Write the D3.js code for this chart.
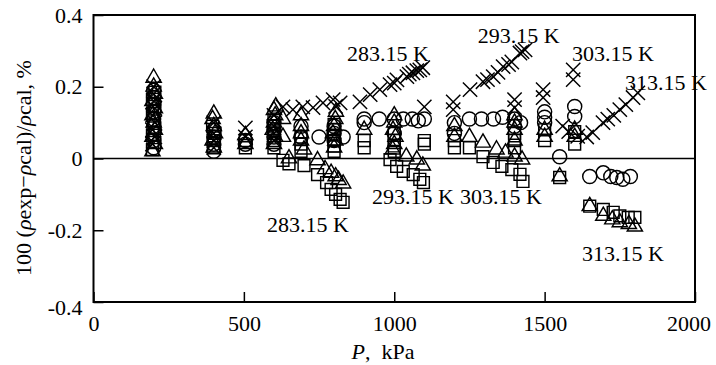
<!DOCTYPE html>
<html>
<head>
<meta charset="utf-8">
<script src="https://cdn.jsdelivr.net/npm/d3@7"></script>
<style>
  body { margin: 0; background: #fff; }
  text { font-family: "Liberation Serif", "Times New Roman", serif; fill: #000; }
</style>
</head>
<body>
<div id="chart"></div>
<script>
// data points: [pressure kPa, deviation %]
const triangles = [
  [196,0.02],[204,0.04],[196,0.06],[204,0.08],[200,0.1],[196,0.12],[204,0.14],[196,0.16],[204,0.18],[200,0.2],[200,0.225],
  [400,0.03],[396,0.05],[404,0.07],[400,0.09],[396,0.11],[400,0.125],
  [505,0.04],[505,0.065],
  [600,0.04],[604,0.06],[596,0.08],[600,0.1],[604,0.12],[600,0.135],[606,0.145],
  [630,0.06],[630,0.11],
  [690,0.05],[690,0.07],[690,0.09],[690,0.12],
  [800,0.03],[804,0.05],[796,0.07],[800,0.09],[804,0.11],[806,0.13],
  [900,0.08],
  [1000,0.04],[1004,0.06],[996,0.08],[1000,0.1],[1000,0.12],
  [1200,0.06],[1200,0.09],
  [1400,0.05],[1400,0.08],[1400,0.1],[1400,0.12],
  [1500,0.06],[1500,0.08],
  [1600,0.06],[1600,0.08],
  [650,0.0],[700,0.025],[745,-0.005],[770,-0.03],[790,-0.04],[805,-0.05],[815,-0.06],[830,-0.07],
  [995,0.025],[1040,0.005],[1075,-0.003],[1095,-0.02],
  [1250,0.06],[1295,0.044],[1340,0.025],[1370,0.016],[1400,0.005],[1425,-0.003],
  [1550,-0.05],
  [1650,-0.133],[1695,-0.16],[1725,-0.17],[1750,-0.178],[1780,-0.183],[1800,-0.19]
];
const squares = [
  [196,0.025],[204,0.045],[196,0.065],[204,0.085],[200,0.105],[196,0.125],[204,0.145],[196,0.165],[204,0.185],
  [400,0.03],[400,0.05],[404,0.07],[396,0.09],
  [505,0.03],[505,0.05],
  [600,0.03],[600,0.05],[600,0.07],[600,0.09],[600,0.11],
  [690,0.02],[690,0.04],[690,0.06],
  [800,0.02],[800,0.035],[800,0.05],[800,0.065],[800,0.08],[800,0.095],
  [900,0.03],[900,0.05],
  [1000,0.02],[1000,0.035],[1000,0.05],[1000,0.07],
  [1100,0.04],[1100,0.05],
  [1200,0.03],[1200,0.05],
  [1250,0.03],
  [1400,0.03],[1400,0.05],[1400,0.07],
  [1500,0.05],[1500,0.08],
  [1600,0.04],[1600,0.075],
  [630,-0.005],[650,-0.015],[700,-0.02],[745,-0.045],[775,-0.067],[790,-0.086],[805,-0.1],[820,-0.114],[830,-0.122],
  [986,-0.003],[1008,-0.022],[1030,-0.036],[1063,-0.045],[1085,-0.058],[1097,-0.067],
  [1295,0.005],[1329,-0.011],[1358,-0.022],[1391,-0.031],[1418,-0.044],[1428,-0.064],
  [1550,-0.053],
  [1650,-0.133],[1695,-0.142],[1728,-0.15],[1750,-0.16],[1778,-0.164],[1800,-0.164]
];
const circles = [
  [200,0.03],[200,0.05],[200,0.07],[200,0.09],[200,0.11],[200,0.13],[200,0.15],[200,0.17],[200,0.19],
  [400,0.02],[400,0.04],[400,0.06],[400,0.08],
  [505,0.04],[505,0.05],
  [600,0.04],[600,0.06],[600,0.08],[600,0.1],
  [690,0.06],[690,0.09],
  [750,0.06],
  [800,0.05],[800,0.07],[800,0.09],[830,0.06],
  [900,0.1],[900,0.11],[950,0.11],
  [1000,0.11],[1000,0.07],[1030,0.11],[1060,0.11],[1080,0.105],[1100,0.11],
  [1200,0.1],[1200,0.07],[1250,0.11],[1290,0.11],[1330,0.11],[1360,0.115],[1400,0.11],[1400,0.09],[1420,0.1],
  [1500,0.13],[1500,0.115],[1500,0.1],
  [1600,0.145],[1600,0.117],
  [1550,0.005],
  [1650,-0.05],[1695,-0.04],[1720,-0.05],[1740,-0.053],[1760,-0.058],[1785,-0.05]
];
const crosses = [
  [196,0.04],[204,0.06],[196,0.08],[204,0.1],[196,0.12],[204,0.14],[200,0.16],[200,0.18],[200,0.2],
  [400,0.03],[400,0.05],[400,0.07],[400,0.1],
  [505,0.06],[505,0.085],
  [600,0.05],[600,0.07],[600,0.09],[600,0.12],
  [630,0.144],[663,0.136],[696,0.144],[730,0.142],[763,0.155],[797,0.164],[820,0.155],[805,0.145],
  [886,0.158],[920,0.178],[952,0.192],[986,0.206],[1000,0.21],[1009,0.219],[1042,0.228],
  [1050,0.235],[1062,0.239],[1075,0.245],[1085,0.247],[1095,0.253],
  [1100,0.144],
  [1196,0.158],[1196,0.136],[1252,0.192],[1295,0.214],[1310,0.22],[1329,0.228],[1345,0.24],
  [1362,0.256],[1380,0.262],[1391,0.269],[1418,0.294],[1425,0.298],[1435,0.303],
  [1400,0.164],[1400,0.142],
  [1495,0.192],[1495,0.17],[1595,0.247],[1595,0.22],
  [1560,0.09],[1580,0.075],[1610,0.062],[1640,0.06],
  [1660,0.072],[1694,0.1],[1710,0.11],[1730,0.12],[1750,0.136],[1770,0.15],[1794,0.17],[1810,0.183]
];

// isotherm labels: [text, pressure, deviation]
const labels = [
  ["283.15 K", 843, 0.272], ["293.15 K", 1278, 0.322], ["303.15 K", 1591, 0.272], ["313.15 K", 1767, 0.19],
  ["283.15 K", 577, -0.206], ["293.15 K", 926, -0.128], ["303.15 K", 1219, -0.128], ["313.15 K", 1624, -0.286]
];
const xTicks = [0, 500, 1000, 1500, 2000];
const yTicks = [-0.4, -0.2, 0, 0.2, 0.4];

const width = 716, height = 365;
const x = d3.scaleLinear().domain([0, 2000]).range([93.5, 695]);
const y = d3.scaleLinear().domain([-0.4, 0.4]).range([302, 15]);

const svg = d3.select("#chart").append("svg")
  .attr("width", width).attr("height", height);

// zero line
svg.append("line")
  .attr("x1", x(0)).attr("x2", x(2000))
  .attr("y1", y(0)).attr("y2", y(0))
  .attr("stroke", "#000").attr("stroke-width", 1.5);

// markers
const markerSets = [
  {data: squares, sym: d3.symbolSquare, size: 140},
  {data: triangles, sym: d3.symbolTriangle, size: 100},
  {data: circles, sym: d3.symbolCircle, size: 155},
  {data: crosses, sym: d3.symbolTimes, size: 135}
];
markerSets.forEach(s => {
  svg.append("g")
    .attr("fill", "none").attr("stroke", "#000").attr("stroke-width", 1.45)
    .selectAll("path")
    .data(s.data)
    .join("path")
    .attr("transform", d => `translate(${x(d[0])},${y(d[1])})`)
    .attr("d", d3.symbol(s.sym, s.size));
});

// axes (ticks point inward)
const xAxis = svg.append("g")
  .attr("transform", `translate(0,${y(-0.4)})`)
  .call(d3.axisBottom(x).tickValues(xTicks).tickSizeInner(-10).tickSizeOuter(0).tickPadding(13)
    .tickFormat(d3.format("d")));
const yAxis = svg.append("g")
  .attr("transform", `translate(${x(0)},0)`)
  .call(d3.axisLeft(y).tickValues(yTicks).tickSizeInner(-10).tickSizeOuter(0).tickPadding(11)
    .tickFormat(d => d === 0 ? "0" : d.toFixed(1)));
[xAxis, yAxis].forEach(a => {
  a.select(".domain").remove();
  a.selectAll("line").attr("stroke", "#000").attr("stroke-width", 1.5);
  a.selectAll("text").style("font-size", "22px").attr("fill", "#000");
});
yAxis.select(".tick:first-of-type text").attr("dy", "0.55em");
xAxis.select(".tick:last-of-type text").attr("dx", "-0.3em");

// frame
svg.append("rect")
  .attr("x", x(0)).attr("y", y(0.4))
  .attr("width", x(2000) - x(0)).attr("height", y(-0.4) - y(0.4))
  .attr("fill", "none").attr("stroke", "#000").attr("stroke-width", 2);

// isotherm labels
svg.append("g").selectAll("text")
  .data(labels)
  .join("text")
  .attr("x", d => x(d[1])).attr("y", d => y(d[2]))
  .style("font-size", "22px")
  .text(d => d[0]);

// axis titles
const xt = svg.append("text")
  .attr("x", 383).attr("y", 359)
  .attr("text-anchor", "middle").style("font-size", "22px");
xt.append("tspan").attr("font-style", "italic").text("P");
xt.append("tspan").text(",\u00a0\u00a0kPa");

const yt = svg.append("text")
  .attr("transform", "translate(31,168) rotate(-90)")
  .attr("text-anchor", "middle").style("font-size", "22px");
yt.append("tspan").text("100 (");
yt.append("tspan").attr("font-style", "italic").text("ρ");
yt.append("tspan").text("exp\u2212");
yt.append("tspan").attr("font-style", "italic").text("ρ");
yt.append("tspan").text("cal)/");
yt.append("tspan").attr("font-style", "italic").text("ρ");
yt.append("tspan").text("cal, %");
</script>
</body>
</html>
